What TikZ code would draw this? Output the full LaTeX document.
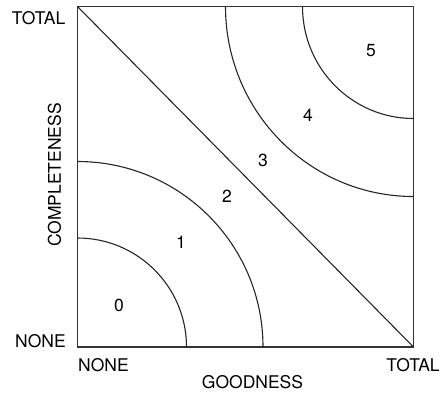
\documentclass[tikz,border=0pt]{standalone}
\usepackage{fontspec}
\setmainfont{TeX Gyre Heros}
\begin{document}
\begin{tikzpicture}[x=1pt,y=-1pt,
  lbl/.style={font=\fontsize{17.5}{20}\selectfont, inner sep=0pt},
  curve/.style={line width=1.1pt, black!85},
  frame/.style={line width=1.2pt, black!80}]
\useasboundingbox (0,0) rectangle (445,392);
\coordinate (BL) at (77.5,347);
\coordinate (TL) at (77.5,6.5);
\coordinate (TR) at (413.5,6.5);
\coordinate (BR) at (413.5,347);
% frame and diagonal
\draw[frame] (BL) -- (TL) -- (TR) -- (BR) -- cycle;
\draw[curve] (TL) -- (BR);
% arcs around the lower-left corner
\draw[curve] ([xshift=109pt]BL) arc[start angle=0, end angle=90, radius=109pt];
\draw[curve] ([xshift=185.5pt]BL) arc[start angle=0, end angle=90, radius=185.5pt];
% arcs around the upper-right corner
\draw[curve] ([xshift=-188pt]TR) arc[start angle=180, end angle=270, x radius=188pt, y radius=190pt];
\draw[curve] ([xshift=-111pt]TR) arc[start angle=180, end angle=270, x radius=111pt, y radius=112pt];
% region numbers
\node[lbl] (n0) at (119,305) {0};
\node[lbl] (n1) at (181,242) {1};
\node[lbl] (n2) at (227,196) {2};
\node[lbl] (n3) at (263,160) {3};
\node[lbl] (n4) at (308,115) {4};
\node[lbl] (n5) at (371,51) {5};
% axis labels
\node[lbl, anchor=east] (ytot) at (65.5,18) {TOTAL};
\node[lbl, anchor=east] (ynone) at (66,341.5) {NONE};
\node[lbl, anchor=west] (xnone) at (78,365) {NONE};
\node[lbl] (xtot) at (413,365) {TOTAL};
\node[lbl] (xlab) at (252.5,382) {GOODNESS};
\node[lbl, rotate=90] (ylab) at (54.5,175) {COMPLETENESS};
\end{tikzpicture}
\end{document}
